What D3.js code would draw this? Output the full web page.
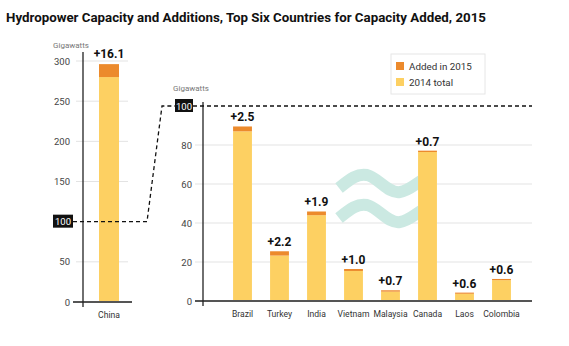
<!DOCTYPE html>
<html><head><meta charset="utf-8">
<script src="https://cdn.jsdelivr.net/npm/d3@7"></script>
<style>body{margin:0;background:#fff;}svg{display:block;font-family:Roboto, "Liberation Sans", sans-serif;}</style>
</head><body><svg id="c" width="569" height="346"></svg>
<script>
const leftCategories = ["China"];
const leftBase = [280];
const leftAdded = [16.1];
const rightCategories = ["Brazil","Turkey","India","Vietnam","Malaysia","Canada","Laos","Colombia"];
const rightBase = [87.0, 23.3, 44.0, 15.4, 4.8, 76.4, 3.7, 10.7];
const rightAdded = [2.5, 2.2, 1.9, 1.0, 0.7, 0.7, 0.6, 0.6];
const leftTicks = [0, 50, 150, 200, 250, 300];
const rightTicks = [0, 20, 40, 60, 80];
const legendLabels = ["Added in 2015", "2014 total"];
const title = "Hydropower Capacity and Additions, Top Six Countries for Capacity Added, 2015";

const YEL = "#fdd062", ORA = "#ec8a2c", GRID = "#e3e3e3", TXT = "#333";
const svg = d3.select("#c");

svg.append("text").attr("x", 6).attr("y", 21.5).attr("font-size", 13.3).attr("font-weight", 700)
  .attr("fill", "#111").text(title);

// ---------- Left panel ----------
const yL = d3.scaleLinear().domain([0, 300]).range([302, 61]);
const xL = d3.scaleBand().domain(leftCategories).range([89, 129]).paddingInner(0).paddingOuter(0.5);

const gL = svg.append("g");
gL.selectAll(".grid").data(leftTicks.filter(d => d > 0)).join("line")
  .attr("x1", 76).attr("x2", 128).attr("y1", d => yL(d)).attr("y2", d => yL(d))
  .attr("stroke", GRID).attr("stroke-width", 1);
gL.selectAll(".tl").data(leftTicks).join("text")
  .attr("x", 70).attr("y", d => yL(d) + 3.5).attr("text-anchor", "end")
  .attr("font-size", 9.5).attr("fill", "#444").text(d => d);

leftCategories.forEach((c, i) => {
  gL.append("rect").attr("x", xL(c)).attr("width", xL.bandwidth())
    .attr("y", yL(leftBase[i])).attr("height", yL(0) - yL(leftBase[i])).attr("fill", YEL);
  gL.append("rect").attr("x", xL(c)).attr("width", xL.bandwidth())
    .attr("y", yL(leftBase[i] + leftAdded[i])).attr("height", yL(leftBase[i]) - yL(leftBase[i] + leftAdded[i])).attr("fill", ORA);
  gL.append("text").attr("x", xL(c) + xL.bandwidth() / 2).attr("y", yL(leftBase[i] + leftAdded[i]) - 6)
    .attr("text-anchor", "middle").attr("font-size", 12).attr("font-weight", 700).attr("fill", "#111")
    .text("+" + leftAdded[i].toFixed(1));
  gL.append("text").attr("x", xL(c) + xL.bandwidth() / 2).attr("y", 318)
    .attr("text-anchor", "middle").attr("font-size", 8.6).attr("fill", TXT).text(c);
});
gL.append("line").attr("x1", 73).attr("x2", 132).attr("y1", yL(0)).attr("y2", yL(0)).attr("stroke", "#555").attr("stroke-width", 2);
gL.append("line").attr("x1", 83).attr("x2", 83).attr("y1", 52).attr("y2", 307).attr("stroke", "#222").attr("stroke-width", 1.3);
gL.append("text").attr("x", 53).attr("y", 48).attr("font-size", 8).attr("fill", "#777").text("Gigawatts");

// ---------- Right panel ----------
const yR = d3.scaleLinear().domain([0, 100]).range([301, 106]);
const xR = d3.scaleBand().domain(rightCategories).range([224, 520]).paddingInner(0.49).paddingOuter(0.245);

const gR = svg.append("g");
gR.selectAll(".grid").data(rightTicks.filter(d => d > 0)).join("line")
  .attr("x1", 195).attr("x2", 532).attr("y1", d => yR(d)).attr("y2", d => yR(d))
  .attr("stroke", GRID).attr("stroke-width", 1);
gR.selectAll(".tr").data(rightTicks).join("text")
  .attr("x", 192).attr("y", d => yR(d) + 3.5).attr("text-anchor", "end")
  .attr("font-size", 9.5).attr("fill", "#444").text(d => d);

// approximately-equal symbol
const wave = (dy) => `M339,${188 + dy} C349,${180 + dy} 357,${173 + dy} 367,${175 + dy} C379,${178 + dy} 388,${194 + dy} 400,${192 + dy} C408,${191 + dy} 414,${185 + dy} 421,${181 + dy}`;
[0, 30].forEach(dy => gR.append("path").attr("d", wave(dy)).attr("fill", "none")
  .attr("stroke", "#cbe9e2").attr("stroke-width", 12));

rightCategories.forEach((c, i) => {
  const x = xR(c), w = xR.bandwidth();
  gR.append("rect").attr("x", x).attr("width", w)
    .attr("y", yR(rightBase[i])).attr("height", yR(0) - yR(rightBase[i])).attr("fill", YEL);
  gR.append("rect").attr("x", x).attr("width", w)
    .attr("y", yR(rightBase[i] + rightAdded[i])).attr("height", yR(rightBase[i]) - yR(rightBase[i] + rightAdded[i])).attr("fill", ORA);
  gR.append("text").attr("x", x + w / 2).attr("y", yR(rightBase[i] + rightAdded[i]) - 5)
    .attr("text-anchor", "middle").attr("font-size", 12).attr("font-weight", 700).attr("fill", "#111")
    .text("+" + rightAdded[i].toFixed(1));
  gR.append("text").attr("x", x + w / 2).attr("y", 317)
    .attr("text-anchor", "middle").attr("font-size", 8.6).attr("fill", TXT).text(c);
});
gR.append("line").attr("x1", 195).attr("x2", 532).attr("y1", yR(0)).attr("y2", yR(0)).attr("stroke", "#555").attr("stroke-width", 2);
gR.append("line").attr("x1", 203).attr("x2", 203).attr("y1", 102).attr("y2", 306).attr("stroke", "#222").attr("stroke-width", 1.3);
gR.append("text").attr("x", 173).attr("y", 91).attr("font-size", 8).attr("fill", "#777").text("Gigawatts");

// ---------- Connector for 100 ----------
const y100L = yL(100), y100R = yR(100);
svg.append("path").attr("d", `M73,${y100L} L147,${y100L} L162,${y100R} L175,${y100R}`)
  .attr("fill", "none").attr("stroke", "#111").attr("stroke-width", 1.3).attr("stroke-dasharray", "4,3");
svg.append("line").attr("x1", 193).attr("x2", 532).attr("y1", y100R).attr("y2", y100R)
  .attr("stroke", "#111").attr("stroke-width", 1.3).attr("stroke-dasharray", "4,3");
[[53, y100L, 20], [175, y100R, 18]].forEach(([x, y, w]) => {
  svg.append("rect").attr("x", x).attr("y", y - 7).attr("width", w).attr("height", 13).attr("fill", "#111");
  svg.append("text").attr("x", x + w / 2).attr("y", y + 3.5).attr("text-anchor", "middle")
    .attr("font-size", 9.5).attr("fill", "#fff").text("100");
});

// ---------- Legend ----------
const lg = svg.append("g");
lg.append("rect").attr("x", 391).attr("y", 54).attr("width", 94).attr("height", 40)
  .attr("fill", "#fff").attr("stroke", "#e6e6e6");
[ORA, YEL].forEach((col, i) => {
  lg.append("rect").attr("x", 396).attr("y", 62 + i * 16).attr("width", 8).attr("height", 8).attr("fill", col);
  lg.append("text").attr("x", 409).attr("y", 70 + i * 16).attr("font-size", 9.8).attr("fill", TXT).text(legendLabels[i]);
});
</script></body></html>
